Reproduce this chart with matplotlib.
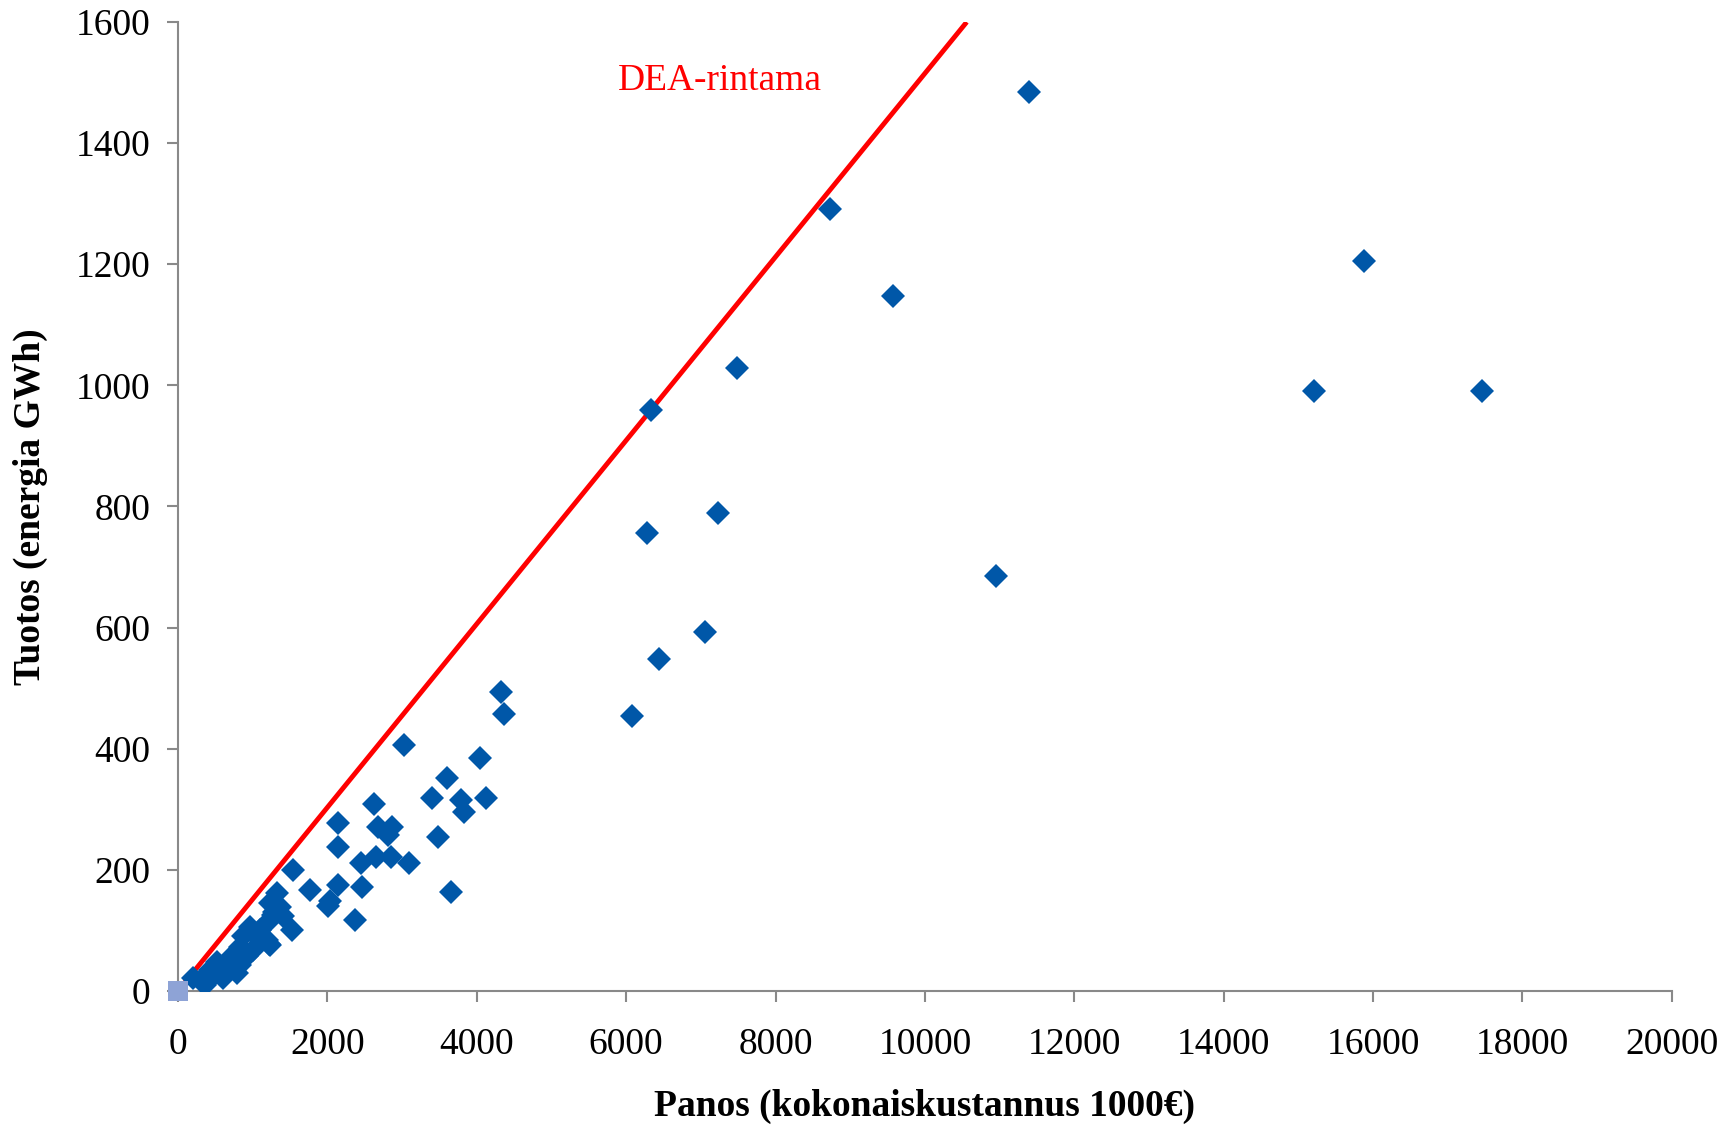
import matplotlib
matplotlib.use("Agg")
import matplotlib.pyplot as plt

# ── Data ─────────────────────────────────────────────────────────────────────
# Panos = kokonaiskustannus (1000 €), Tuotos = energia (GWh)
PANOS = [
    11400, 8734, 9577, 7491, 6336, 15884, 15203, 17454, 10955, 7224,
    6277, 7061, 6439, 6084, 4323, 4367, 3020, 4041, 3597, 3405,
    4130, 3789, 3834, 2627, 2145, 2680, 2859, 2814, 2145, 3479,
    2444, 2645, 2850, 3095, 1543, 2145, 2458, 1766, 3656, 2003,
    2040, 2368, 1521,
    1320, 1231, 1365, 1275, 1409, 1187, 963, 1053, 1187, 874,
    830, 1008, 1231, 919, 830, 696, 606, 518, 428, 473,
    339, 205, 361, 696, 606, 785, 1214, 992, 1100, 1290,
]
TUOTOS = [
    1485, 1292, 1148, 1028, 960, 1205, 991, 991, 685, 789,
    756, 592, 548, 454, 494, 457, 406, 384, 352, 319,
    319, 315, 295, 308, 277, 270, 271, 258, 238, 255,
    211, 222, 222, 212, 200, 175, 172, 167, 164, 141,
    148, 117, 100,
    161, 145, 139, 125, 123, 112, 106, 92, 84, 90,
    73, 68, 76, 57, 43, 54, 40, 48, 35, 24,
    21, 21, 10, 35, 21, 29, 77, 98, 100, 130,
]

# origin reference point and DEA frontier
ORIGIN_X, ORIGIN_Y = [0], [0]
FRONTIER_X = [0, 10560]
FRONTIER_Y = [0, 1600]

X_TICKS = list(range(0, 20001, 2000))
Y_TICKS = list(range(0, 1601, 200))

plt.rcParams["font.family"] = ["Liberation Serif", "DejaVu Serif"]

fig = plt.figure(figsize=(17.33, 11.28), dpi=100)
ax = fig.add_axes([0.1027, 0.1215, 0.862, 0.859])

ax.plot(FRONTIER_X, FRONTIER_Y, color="#FF0000", linewidth=3.5, zorder=2,
        solid_capstyle="butt")
ax.plot(PANOS, TUOTOS, "D", color="#0057A8", markersize=12.5, markeredgewidth=0,
        linestyle="none", zorder=3)
ax.plot(ORIGIN_X, ORIGIN_Y, "s", color="#8EA3D6", markersize=14,
        markeredgewidth=0, linestyle="none", zorder=4, clip_on=False)

ax.text(7250, 1503, "DEA-rintama", color="#FF0000", fontsize=27,
        ha="center", va="center")

ax.set_xlim(0, 20000)
ax.set_ylim(0, 1600)
ax.set_xticks(X_TICKS)
ax.set_yticks(Y_TICKS)

for sp in ["top", "right"]:
    ax.spines[sp].set_visible(False)
for sp in ["left", "bottom"]:
    ax.spines[sp].set_color("#898989")
    ax.spines[sp].set_linewidth(1.5)

ax.tick_params(axis="both", direction="out", length=8, width=1.5,
               color="#898989", labelsize=27, labelcolor="black")
ax.tick_params(axis="x", pad=18)
ax.tick_params(axis="y", pad=12)

ax.set_xlabel("Panos (kokonaiskustannus 1000€)", fontsize=27,
              fontweight="bold", labelpad=20)
ax.set_ylabel("Tuotos (energia GWh)", fontsize=27, fontweight="bold",
              labelpad=20)

fig.savefig("out.png", dpi=100, facecolor="white")
